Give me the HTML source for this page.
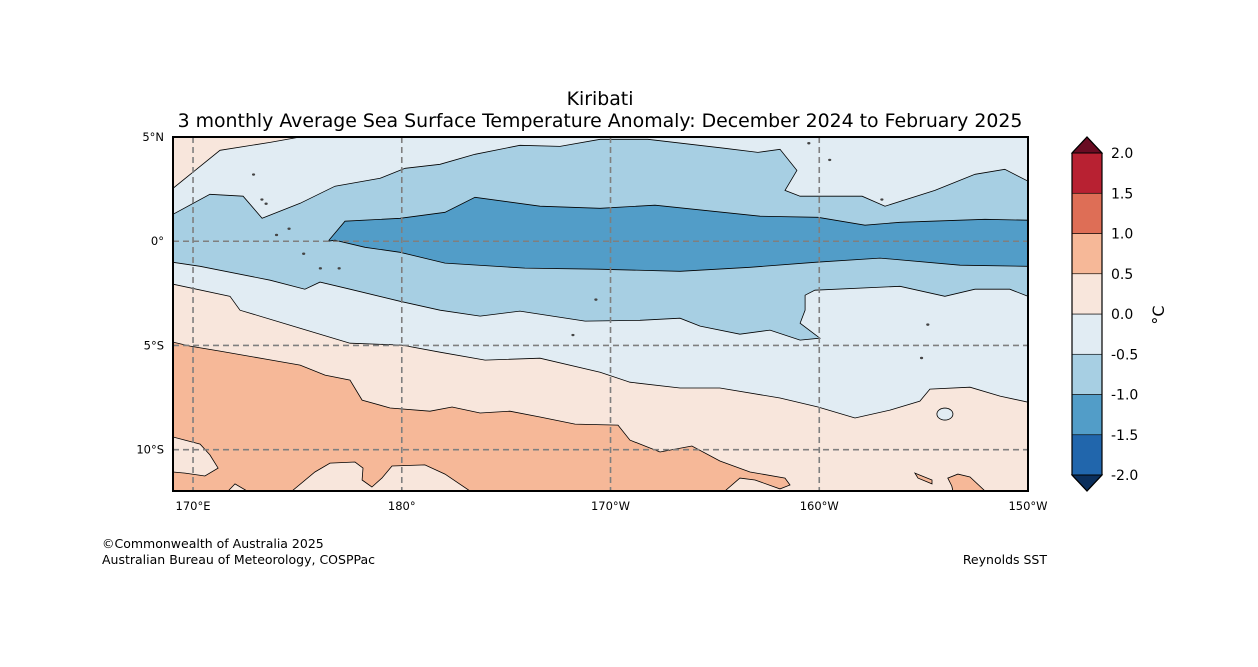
<!DOCTYPE html>
<html><head><meta charset="utf-8">
<style>
body{margin:0;background:#fff;font-family:"Liberation Sans","DejaVu Sans",sans-serif;}
#wrap{position:relative;width:1258px;height:667px;overflow:hidden;}
svg text{font-family:"DejaVu Sans","Liberation Sans",sans-serif;}
</style></head>
<body>
<div id="wrap">
<svg id="svg" width="1258" height="667" xmlns="http://www.w3.org/2000/svg">
<text x="600" y="105" font-size="18.9" text-anchor="middle">Kiribati</text>
<text x="600" y="127" font-size="18.9" text-anchor="middle">3 monthly Average Sea Surface Temperature Anomaly: December 2024 to February 2025</text>
<g id="map"></g>
<g id="cbar"></g>
<text x="102" y="548" font-size="12.5">©Commonwealth of Australia 2025</text>
<text x="102" y="564" font-size="12.5">Australian Bureau of Meteorology, COSPPac</text>
<text x="1047" y="564" font-size="12.5" text-anchor="end">Reynolds SST</text>
</svg>
</div>
<script>
// ---- data (lon in degrees east, lat in degrees) ----
const lonTicks = [170, 180, 190, 200, 210];
const lonTickLabels = ["170°E", "180°", "170°W", "160°W", "150°W"];
const latTicks = [5, 0, -5, -10];
const latTickLabels = ["5°N", "0°", "5°S", "10°S"];
const levels = [-2.0, -1.5, -1.0, -0.5, 0.0, 0.5, 1.0, 1.5, 2.0];
const levelColors = ["#2166ac", "#529dc8", "#a7cfe3", "#e1ecf3", "#f8e6dc", "#f6b898", "#de6e56", "#b82132"];
const extendColors = ["#0b2f5c", "#690b22"];
const bounds = {lonMin: 169.04, lonMax: 210, latMin: -11.98, latMax: 5};

const lineNorthHalf = [[169.04,1.29],[170.81,2.25],[172.40,2.16],[173.31,1.10],[175.13,1.82],[176.80,2.64],[178.96,3.02],[180.16,3.50],[181.83,3.69],[183.51,4.17],[185.66,4.60],[187.58,4.55],[189.50,4.89],[191.79,4.89],[195.48,4.46],[197.06,4.26],[198.12,4.41],[198.93,3.40],[198.36,2.44],[199.08,2.16],[202.05,2.16],[203.15,1.68],[205.54,2.44],[207.46,3.21],[208.89,3.45],[210.00,2.88]];
const lineSouthHalf = [[169.04,-1.01],[170.34,-1.20],[173.69,-1.87],[175.36,-2.30],[176.08,-1.96],[177.52,-2.30],[179.92,-2.88],[181.83,-3.31],[183.75,-3.59],[185.66,-3.35],[188.78,-3.83],[191.41,-3.79],[193.33,-3.69],[194.29,-4.07],[196.20,-4.46],[197.64,-4.26],[199.08,-4.74],[200.03,-4.65],[199.08,-3.93],[199.32,-3.31],[199.32,-2.59],[199.79,-2.35],[203.87,-2.16],[206.02,-2.64],[207.46,-2.30],[209.13,-2.30],[210.00,-2.64]];
const coreUpper = [[176.47,0],[177.28,0.96],[179.92,1.10],[182.07,1.39],[183.51,2.11],[186.62,1.68],[189.50,1.58],[192.13,1.73],[197.16,1.20],[199.94,1.15],[202.19,0.77],[203.87,0.91],[207.94,1.05],[210.00,1.01]];
const coreLower = [[210.00,-1.20],[206.74,-1.15],[202.91,-0.81],[199.79,-1.01],[196.68,-1.25],[193.33,-1.44],[189.40,-1.34],[185.90,-1.29],[182.07,-1.05],[179.92,-0.53],[178.24,-0.29],[176.80,0.05]];
const lineZeroSouth = [[169.04,-2.06],[171.77,-2.64],[172.25,-3.31],[175.13,-4.17],[177.52,-4.89],[180.01,-4.98],[181.83,-5.32],[183.99,-5.70],[186.62,-5.61],[189.50,-6.28],[190.93,-6.76],[193.33,-7.04],[195.24,-7.04],[198.12,-7.52],[199.94,-7.95],[201.71,-8.48],[203.39,-8.10],[204.82,-7.67],[205.30,-7.09],[207.22,-7.00],[208.66,-7.43],[210.00,-7.72]];
const lineHalfPos = [[169.04,-4.84],[169.86,-5.03],[171.29,-5.27],[173.45,-5.65],[175.13,-5.94],[176.32,-6.42],[177.52,-6.66],[178.10,-7.62],[179.44,-8.00],[181.35,-8.15],[182.41,-7.95],[183.75,-8.24],[185.18,-8.15],[186.62,-8.43],[188.30,-8.77],[190.36,-8.82],[190.93,-9.54],[192.37,-10.11],[193.90,-9.82],[195.24,-10.54],[196.68,-11.07],[198.36,-11.36],[198.60,-11.69],[198.12,-11.88],[196.92,-11.45],[196.20,-11.36],[195.48,-11.98]];
const cornerNW = [[169.04,5],[175.03,4.98],[173.69,4.74],[171.29,4.36],[170.10,3.40],[169.04,2.54]];
const pinkPatchA = [[169.04,-9.39],[170.34,-9.73],[170.81,-10.25],[171.20,-10.88],[170.57,-11.26],[169.62,-11.12],[169.04,-11.07]];
const pinkPatchB = [[171.68,-11.98],[172.01,-11.64],[172.59,-11.98]];
const pinkPatchC = [[174.74,-11.98],[175.84,-11.07],[176.56,-10.64],[177.76,-10.59],[178.14,-10.88],[178.10,-11.45],[178.57,-11.79],[179.05,-11.36],[179.53,-10.78],[181.11,-10.73],[182.07,-11.17],[183.27,-11.98]];
const salmonPatchA = [[204.58,-11.12],[205.40,-11.45],[205.40,-11.64],[204.73,-11.36]];
const salmonPatchB = [[206.35,-11.74],[206.16,-11.36],[206.64,-11.17],[207.22,-11.31],[207.94,-11.98],[206.40,-11.98]];
const coolSpot = [206.02, -8.29];
const islands = [[172.9,3.2],[173.3,2.0],[173.5,1.8],[174.0,0.3],[174.6,0.6],[175.3,-0.6],[176.1,-1.3],[177.0,-1.3],[189.3,-2.8],[199.5,4.7],[200.5,3.9],[203.0,2.0],[205.2,-4.0],[204.9,-5.6],[188.2,-4.5]];

// ---- scales ----
const X0 = 173, X1 = 1028, Y0 = 137, Y1 = 491;
const xs = lon => X0 + (lon - bounds.lonMin) / (bounds.lonMax - bounds.lonMin) * (X1 - X0);
const ys = lat => Y0 + (bounds.latMax - lat) / (bounds.latMax - bounds.latMin) * (Y1 - Y0);
const NS = "http://www.w3.org/2000/svg";
const map = document.getElementById('map');
const cbar = document.getElementById('cbar');
function mk(tag, attrs, parent){const e=document.createElementNS(NS,tag);for(const k in attrs)e.setAttribute(k,attrs[k]);parent.appendChild(e);return e;}
const pts = arr => arr.map(p => xs(p[0]).toFixed(1)+','+ys(p[1]).toFixed(1)).join(' ');

const defs = mk('defs',{},map);
const cp = mk('clipPath',{id:'clip'},defs);
mk('rect',{x:X0,y:Y0,width:X1-X0,height:Y1-Y0},cp);
const g = mk('g',{'clip-path':'url(#clip)'},map);

let e;
e = mk('rect',{x:X0,y:Y0,width:X1-X0,height:Y1-Y0,fill:levelColors[4]},g);



e = mk('polygon',{points:pts([[bounds.lonMin,bounds.latMax]].concat(lineZeroSouth).concat([[bounds.lonMax,bounds.latMax]])),fill:levelColors[3],stroke:'#000','stroke-width':0.8},g);



e = mk('polygon',{points:pts(cornerNW),fill:levelColors[4],stroke:'#000','stroke-width':0.8},g);



e = mk('polygon',{points:pts(lineNorthHalf.concat(lineSouthHalf.slice().reverse())),fill:levelColors[2],stroke:'#000','stroke-width':0.8},g);



e = mk('polygon',{points:pts(coreUpper.concat(coreLower)),fill:levelColors[1],stroke:'#000','stroke-width':0.8},g);



e = mk('polygon',{points:pts(lineHalfPos.concat([[bounds.lonMin,bounds.latMin]])),fill:levelColors[5],stroke:'#000','stroke-width':0.8},g);



[pinkPatchA,pinkPatchB,pinkPatchC].forEach(p=>{
  const el = mk('polygon',{points:pts(p),fill:levelColors[4],stroke:'#000','stroke-width':0.8},g);
  
  
});
[salmonPatchA,salmonPatchB].forEach(p=>{
  const el = mk('polygon',{points:pts(p),fill:levelColors[5],stroke:'#000','stroke-width':0.8},g);
  
  
});
e = mk('ellipse',{cx:xs(coolSpot[0]),cy:ys(coolSpot[1]),rx:8,ry:6,fill:levelColors[3],stroke:'#000','stroke-width':0.8},g);



islands.forEach(p=>{
  const el = mk('ellipse',{cx:xs(p[0]),cy:ys(p[1]),rx:1.6,ry:1.2,fill:'#444'},g);
  
  
});

// gridlines
lonTicks.forEach((lon,i)=>{
  if(lon<bounds.lonMax){
    const l = mk('line',{x1:xs(lon),x2:xs(lon),y1:Y0,y2:Y1,stroke:'#7f7f7f','stroke-width':1.6,'stroke-dasharray':'6,4'},map);
    
    
  }
  const t = mk('text',{x:xs(lon),y:Y1+19,'font-size':11.5,'text-anchor':'middle'},map);
  t.textContent = lonTickLabels[i];
  
  
});
latTicks.forEach((lat,i)=>{
  if(lat<bounds.latMax){
    const l = mk('line',{x1:X0,x2:X1,y1:ys(lat),y2:ys(lat),stroke:'#7f7f7f','stroke-width':1.6,'stroke-dasharray':'6,4'},map);
    
    
  }
  const t = mk('text',{x:X0-9,y:ys(lat)+4,'font-size':11.5,'text-anchor':'end'},map);
  t.textContent = latTickLabels[i];
  
  
});
e = mk('rect',{x:X0,y:Y0,width:X1-X0,height:Y1-Y0,fill:'none',stroke:'#000','stroke-width':2},map);



// colorbar
const CX = 1072, CW = 30, CT = 153, CB = 475;
const cy = v => CB - (v - levels[0]) / (levels[levels.length-1] - levels[0]) * (CB - CT);
for(let i=0;i<levelColors.length;i++){
  const r = mk('rect',{x:CX,y:cy(levels[i+1]),width:CW,height:cy(levels[i])-cy(levels[i+1]),fill:levelColors[i],stroke:'#000','stroke-width':0.6},cbar);
  
  
}
e = mk('polygon',{points:`${CX},${CT} ${CX+CW/2},${CT-16} ${CX+CW},${CT}`,fill:extendColors[1],stroke:'#000','stroke-width':1},cbar);


e = mk('polygon',{points:`${CX},${CB} ${CX+CW/2},${CB+16} ${CX+CW},${CB}`,fill:extendColors[0],stroke:'#000','stroke-width':1},cbar);


e = mk('polygon',{points:`${CX},${CT} ${CX+CW/2},${CT-16} ${CX+CW},${CT} ${CX+CW},${CB} ${CX+CW/2},${CB+16} ${CX},${CB}`,fill:'none',stroke:'#000','stroke-width':1.2},cbar);


levels.forEach(v=>{
  const t = mk('text',{x:CX+CW+9,y:cy(v)+5,'font-size':14},cbar);
  t.textContent = v.toFixed(1);
  
  
});
e = mk('text',{x:0,y:0,'font-size':16,transform:'translate(1164,315) rotate(-90)','text-anchor':'middle'},cbar);
e.textContent = '°C';


</script>
</body></html>
